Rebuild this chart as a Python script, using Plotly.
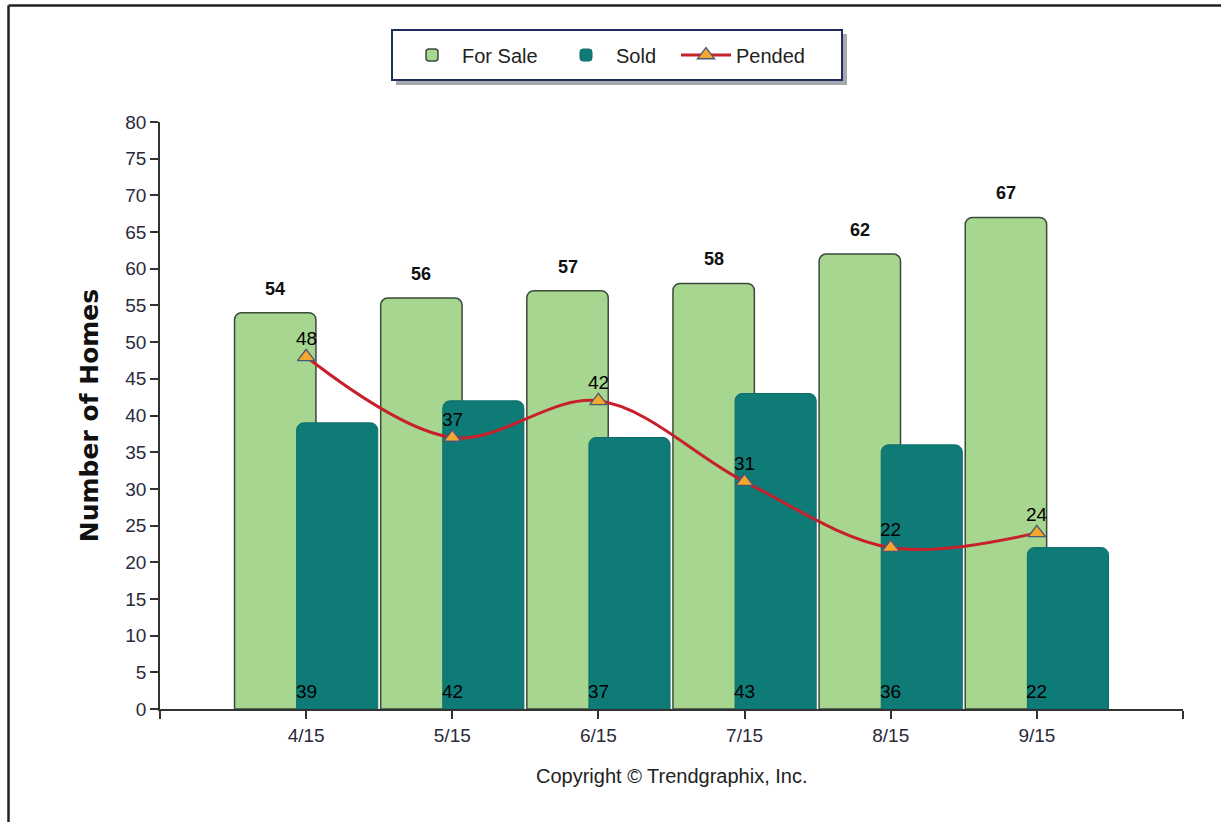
import plotly.graph_objects as go

months = ["4/15", "5/15", "6/15", "7/15", "8/15", "9/15"]
for_sale = [54, 56, 57, 58, 62, 67]
sold = [39, 42, 37, 43, 36, 22]
pended = [48, 37, 42, 31, 22, 24]
y_ticks = list(range(0, 85, 5))

idx = list(range(len(months)))
FONT = "Arial, Liberation Sans, sans-serif"

L, R, T, B = 160, 38, 122, 113
W, H = 1221, 822
pw, ph = W - L - R, H - T - B
def px(x):
    return (x - L) / pw
def py(y):
    return (H - B - y) / ph

fig = go.Figure()
fig.add_trace(go.Bar(
    x=idx, y=for_sale, name="For Sale", offset=-0.49, width=0.557, legend="legend",
    marker=dict(color="#a6d68f", line=dict(color="#3c4a3c", width=1.5), cornerradius=7),
))
fig.add_trace(go.Bar(
    x=idx, y=sold, name="Sold", offset=-0.065, width=0.555, legend="legend2",
    marker=dict(color="#0f7b77", line=dict(color="#0c6e6a", width=1), cornerradius=7),
))
fig.add_trace(go.Scatter(
    x=idx, y=pended, name="Pended", mode="lines+markers", legend="legend3",
    line=dict(color="#c8202a", width=3, shape="spline", smoothing=1),
    marker=dict(symbol="triangle-up", size=15, color="#f5a62e",
                line=dict(color="#4a5878", width=1.3)),
))

annotations = []
for i, v in zip(idx, for_sale):
    annotations.append(dict(x=i - 0.49 + 0.557 / 2, y=v, text=f"<b>{v}</b>", showarrow=False,
                            yanchor="bottom", yshift=12, font=dict(size=18, color="#111", family=FONT)))
for i, v in zip(idx, sold):
    annotations.append(dict(x=i, y=0, text=str(v), showarrow=False,
                            yanchor="bottom", yshift=5, font=dict(size=19, color="#000", family=FONT)))
for i, v in zip(idx, pended):
    annotations.append(dict(x=i, y=v, text=str(v), showarrow=False,
                            yanchor="bottom", yshift=6, font=dict(size=19, color="#000", family=FONT)))
annotations.append(dict(xref="paper", yref="paper", x=0.5, y=py(776), text="Copyright \u00a9 Trendgraphix, Inc.",
                        showarrow=False, yanchor="middle", font=dict(size=20, color="#222", family=FONT)))

shapes = [
    dict(type="line", xref="paper", yref="paper", x0=px(8.5), x1=px(1240), y0=py(5.5), y1=py(5.5),
         line=dict(color="#222", width=2.5)),
    dict(type="line", xref="paper", yref="paper", x0=px(8.5), x1=px(8.5), y0=py(5.5), y1=py(840),
         line=dict(color="#222", width=2.5)),
    dict(type="rect", xref="paper", yref="paper", x0=px(396), x1=px(847), y0=py(34), y1=py(85),
         line=dict(width=0), fillcolor="rgba(60,60,80,0.45)", layer="below"),
    dict(type="rect", xref="paper", yref="paper", x0=px(392), x1=px(842), y0=py(30), y1=py(80),
         line=dict(color="#1e2d5a", width=2), fillcolor="white", layer="below"),
]

leg_common = dict(orientation="h", yanchor="middle", y=py(55), xanchor="left",
                  bgcolor="rgba(0,0,0,0)", borderwidth=0, itemwidth=50,
                  font=dict(size=20, color="#222", family=FONT))

fig.update_layout(
    width=W, height=H,
    margin=dict(l=L, r=R, t=T, b=B),
    paper_bgcolor="white", plot_bgcolor="white",
    barmode="overlay",
    font=dict(family=FONT, size=18, color="#222"),
    showlegend=True,
    legend=dict(x=px(402), **leg_common),
    legend2=dict(x=px(556), **leg_common),
    legend3=dict(x=px(676), **leg_common),
    xaxis=dict(range=[-1, 6], tickmode="array", tickvals=[-1] + idx + [6],
               ticktext=[""] + months + [""], showline=True, linecolor="#333", linewidth=1.5,
               ticks="outside", ticklen=8, tickcolor="#333", tickwidth=1.5, showgrid=False,
               zeroline=False, tickfont=dict(size=19, color="#2a2a3a")),
    yaxis=dict(range=[0, 80], tickmode="array", tickvals=y_ticks, showline=True, linecolor="#333",
               linewidth=1.5, ticks="outside", ticklen=8, tickcolor="#333", tickwidth=1.5,
               showgrid=False, zeroline=False, tickfont=dict(size=19, color="#2a2a3a"),
               title=dict(text="<b>Number of Homes</b>", standoff=20,
                          font=dict(size=25, color="#111", family="DejaVu Sans, Arial, sans-serif"))),
    annotations=annotations,
    shapes=shapes,
)

fig.write_html("out.html")
